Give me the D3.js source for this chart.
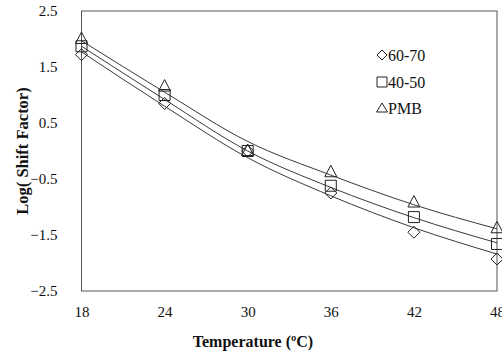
<!DOCTYPE html>
<html><head><meta charset="utf-8">
<script src="https://cdn.jsdelivr.net/npm/d3@7"></script>
<style>body{margin:0;background:#fff}svg{display:block}</style>
</head><body>
<script>
const temps = [18, 24, 30, 36, 42, 48];
const seriesNames = ["60-70", "40-50", "PMB"];
const pts6070 = [1.72, 0.85, 0, -0.75, -1.45, -1.93];
const pts4050 = [1.87, 1.0, 0, -0.62, -1.18, -1.66];
const ptsPMB = [2.0, 1.15, 0, -0.38, -0.92, -1.38];
const fit6070 = [1.77, 0.80, -0.12, -0.80, -1.37, -1.84];
const fit4050 = [1.87, 0.92, 0.0, -0.65, -1.19, -1.64];
const fitPMB = [1.97, 1.05, 0.17, -0.43, -0.96, -1.39];
const yTicks = [2.5, 1.5, 0.5, -0.5, -1.5, -2.5];
const symbols = ["diamond", "square", "triangle"];

const W = 502, H = 354;
const m = {l: 81.5, r: 497, t: 11, b: 291};
const svg = d3.select("body").append("svg").attr("width", W).attr("height", H);
const x = d3.scaleLinear().domain([18, 48]).range([m.l, m.r]);
const y = d3.scaleLinear().domain([-2.5, 2.5]).range([m.b, m.t]);

svg.append("rect").attr("x", m.l).attr("y", m.t).attr("width", m.r - m.l).attr("height", m.b - m.t)
  .attr("fill", "none").attr("stroke", "#555").attr("stroke-width", 1);

const font = "'Liberation Serif', 'Times New Roman', serif";
const xa = svg.append("g").attr("transform", `translate(0,${m.b})`)
  .call(d3.axisBottom(x).tickValues(temps).tickSize(0).tickPadding(15).tickFormat(d3.format("d")));
xa.select(".domain").remove();
xa.selectAll("text").attr("font-family", font).attr("font-size", 15).attr("fill", "#111");
const ya = svg.append("g").attr("transform", `translate(${m.l},0)`)
  .call(d3.axisLeft(y).tickValues(yTicks).tickSize(0).tickPadding(24).tickFormat(d3.format(".1f")));
ya.select(".domain").remove();
ya.selectAll("text").attr("font-family", font).attr("font-size", 15).attr("fill", "#111");

svg.append("text").attr("x", 253).attr("y", 347).attr("text-anchor", "middle")
  .attr("font-family", font).attr("font-weight", "bold").attr("font-size", 16).attr("fill", "#111")
  .text("Temperature (ºC)");
svg.append("text").attr("transform", `translate(28,151) rotate(-90)`).attr("text-anchor", "middle")
  .attr("font-family", font).attr("font-weight", "bold").attr("font-size", 16.5).attr("fill", "#111")
  .text("Log( Shift Factor)");

const fits = [fit6070, fit4050, fitPMB];
const pts = [pts6070, pts4050, ptsPMB];
const line = d3.line().x((d, i) => x(temps[i])).y(d => y(d)).curve(d3.curveMonotoneX);
fits.forEach(f => {
  svg.append("path").attr("d", line(f)).attr("fill", "none").attr("stroke", "#222").attr("stroke-width", 0.9);
});

function marker(g, type, cx, cy) {
  let p;
  if (type === "diamond") p = `M${cx},${cy-6}L${cx+6},${cy}L${cx},${cy+6}L${cx-6},${cy}Z`;
  else if (type === "square") p = `M${cx-5.5},${cy-5.5}h11v11h-11Z`;
  else p = `M${cx},${cy-7}L${cx+6},${cy+4.5}L${cx-6},${cy+4.5}Z`;
  g.append("path").attr("d", p).attr("fill", "none").attr("stroke", "#222").attr("stroke-width", 1);
}
pts.forEach((s, k) => {
  const g = svg.append("g");
  s.forEach((v, i) => marker(g, symbols[k], x(temps[i]), y(v)));
});

const legY = [55, 82, 108];
seriesNames.forEach((n, k) => {
  const g = svg.append("g");
  if (symbols[k] === "diamond") g.append("path").attr("d", `M382,${legY[k]-5}L387,${legY[k]}L382,${legY[k]+5}L377,${legY[k]}Z`).attr("fill","none").attr("stroke","#222");
  else if (symbols[k] === "square") g.append("path").attr("d", `M377,${legY[k]-5}h10v10h-10Z`).attr("fill","none").attr("stroke","#222");
  else g.append("path").attr("d", `M382,${legY[k]-5}L387.5,${legY[k]+4}L376.5,${legY[k]+4}Z`).attr("fill","none").attr("stroke","#222");
  g.append("text").attr("x", 388).attr("y", legY[k] + 5.5).attr("font-family", font).attr("font-size", 16)
    .attr("fill", "#111").text(n);
});
</script>
</body></html>
